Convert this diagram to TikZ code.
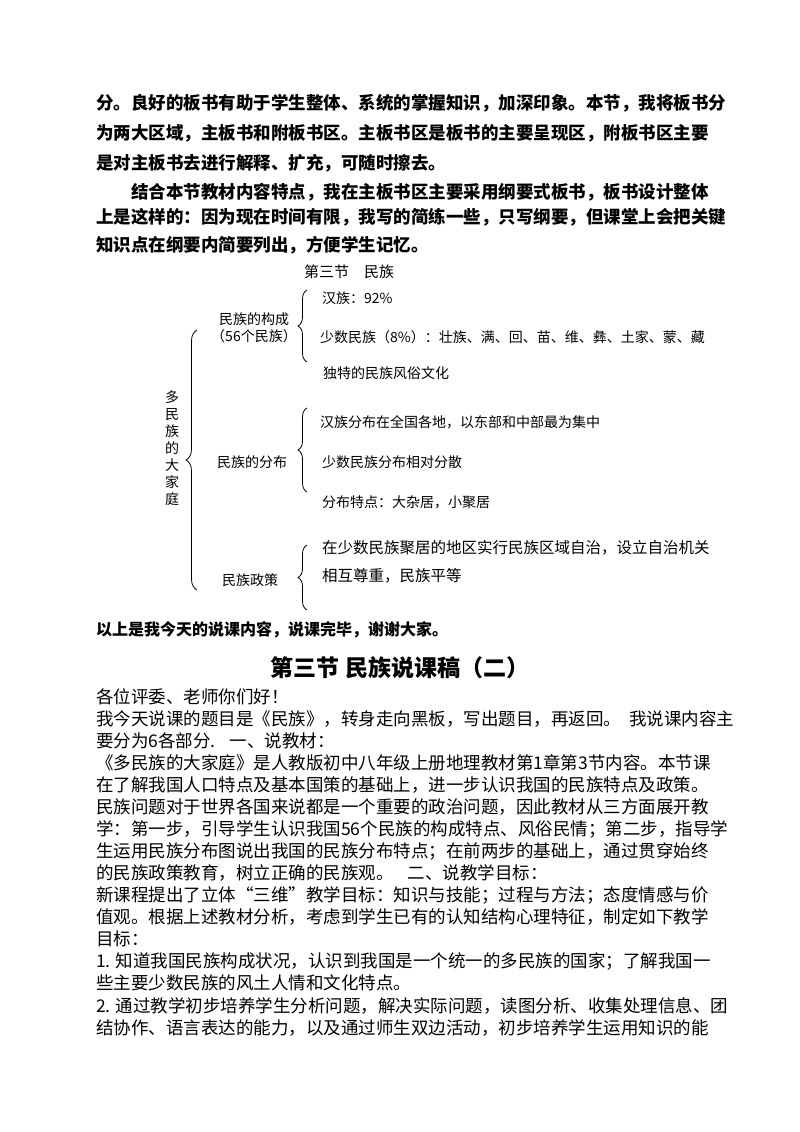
\documentclass[tikz,border=0pt]{standalone}
\usepackage{fontspec}
\setmainfont{Noto Sans CJK SC}
\usetikzlibrary{decorations.pathreplacing}
\XeTeXlinebreaklocale "zh"
\XeTeXlinebreakskip=0pt plus 3pt
\newcommand{\fl}[1]{\makebox[604pt][s]{#1}}
\begin{document}
\begin{tikzpicture}[x=1pt,y=-1pt,
  bt/.style={anchor=west,inner sep=0pt,font=\fontsize{17.5}{20}\selectfont\bfseries},
  bd/.style={anchor=west,inner sep=0pt,font=\fontsize{17.5}{20}\selectfont},
  it/.style={anchor=west,inner sep=0pt,font=\fontsize{14}{16}\selectfont},
  br/.style={decorate,decoration={brace,amplitude=9pt},line width=0.8pt}]
\useasboundingbox[fill=white] (0,0) rectangle (800,1132);
% top paragraph
\node[bt] (p1) at (96,103) {\fl{分。良好的板书有助于学生整体、系统的掌握知识，加深印象。本节，我将板书分}};
\node[bt] (p2) at (96,133) {\fl{为两大区域，主板书和附板书区。主板书区是板书的主要呈现区，附板书区主要}};
\node[bt] (p3) at (96,163) {是对主板书去进行解释、扩充，可随时擦去。};
\node[bt] (p4) at (96,192) {\makebox[585pt][s]{\hspace{35pt}结合本节教材内容特点，我在主板书区主要采用纲要式板书，板书设计整体}};
\node[bt] (p5) at (96,217) {\fl{上是这样的：因为现在时间有限，我写的简练一些，只写纲要，但课堂上会把关键}};
\node[bt] (p6) at (96,245) {知识点在纲要内简要列出，方便学生记忆。};
% diagram
\node[inner sep=0pt,font=\fontsize{15}{17}\selectfont] (t) at (349,272) {第三节\quad 民族};
\node[align=center,inner sep=0pt,font=\fontsize{14}{17}\selectfont] (v) at (172,448) {多\\民\\族\\的\\大\\家\\庭};
\coordinate (b0a) at (197,590); \coordinate (b0b) at (197,330);
\draw[br,decoration={amplitude=11pt}] (b0a) -- (b0b);
\node[align=center,inner sep=0pt,font=\fontsize{14}{17}\selectfont] (g1) at (254,328) {民族的构成\\（56个民族）};
\node[it] (g2) at (217,462) {民族的分布};
\node[it] (g3) at (222,580) {民族政策};
\coordinate (b1a) at (307,362); \coordinate (b1b) at (307,290);
\draw[br] (b1a) -- (b1b);
\coordinate (b2a) at (307,492); \coordinate (b2b) at (307,408);
\draw[br] (b2a) -- (b2b);
\coordinate (b3a) at (307,610); \coordinate (b3b) at (307,545);
\draw[br] (b3a) -- (b3b);
\node[it] (i1) at (322,298) {汉族：92\%};
\node[it] (i2) at (320,337) {少数民族（8\%）：壮族、满、回、苗、维、彝、土家、蒙、藏};
\node[it] (i3) at (323,373) {独特的民族风俗文化};
\node[it] (i4) at (320,422) {汉族分布在全国各地，以东部和中部最为集中};
\node[it] (i5) at (322,462) {少数民族分布相对分散};
\node[it] (i6) at (322,502) {分布特点：大杂居，小聚居};
\node[it,font=\fontsize{15.5}{17}\selectfont] (i7) at (322,548) {在少数民族聚居的地区实行民族区域自治，设立自治机关};
\node[it,font=\fontsize{15.5}{17}\selectfont] (i8) at (322,576) {相互尊重，民族平等};
\node[bt,font=\fontsize{16}{18}\selectfont\bfseries] (end) at (96,630) {以上是我今天的说课内容，说课完毕，谢谢大家。};
% second part
\node[inner sep=0pt,font=\fontsize{23}{26}\selectfont\bfseries] (h) at (400,668) {第三节 民族说课稿（二）};
\node[bd] (q1) at (96,697) {各位评委、老师你们好！};
\node[bd] (q2) at (96,719) {\fl{我今天说课的题目是《民族》，转身走向黑板，写出题目，再返回。\hspace{8pt}我说课内容主}};
\node[bd] (q3) at (96,741) {要分为6各部分.\hspace{14pt}一、说教材：};
\node[bd] (q4) at (96,763) {\fl{《多民族的大家庭》是人教版初中八年级上册地理教材第1章第3节内容。本节课}};
\node[bd] (q5) at (96,785) {\fl{在了解我国人口特点及基本国策的基础上，进一步认识我国的民族特点及政策。}};
\node[bd] (q6) at (96,807) {\fl{民族问题对于世界各国来说都是一个重要的政治问题，因此教材从三方面展开教}};
\node[bd] (q7) at (96,829) {\fl{学：第一步，引导学生认识我国56个民族的构成特点、风俗民情；第二步，指导学}};
\node[bd] (q8) at (96,851) {\fl{生运用民族分布图说出我国的民族分布特点；在前两步的基础上，通过贯穿始终}};
\node[bd] (q9) at (96,873) {的民族政策教育，树立正确的民族观。\hspace{14pt}二、说教学目标：};
\node[bd] (q10) at (96,895) {\fl{新课程提出了立体“三维”教学目标：知识与技能；过程与方法；态度情感与价}};
\node[bd] (q11) at (96,917) {\fl{值观。根据上述教材分析，考虑到学生已有的认知结构心理特征，制定如下教学}};
\node[bd] (q12) at (96,939) {目标：};
\node[bd] (q13) at (96,961) {\fl{1. 知道我国民族构成状况，认识到我国是一个统一的多民族的国家；了解我国一}};
\node[bd] (q14) at (96,983) {些主要少数民族的风土人情和文化特点。};
\node[bd] (q15) at (96,1006) {\fl{2. 通过教学初步培养学生分析问题，解决实际问题，读图分析、收集处理信息、团}};
\node[bd] (q16) at (96,1028) {\fl{结协作、语言表达的能力，以及通过师生双边活动，初步培养学生运用知识的能}};
\end{tikzpicture}
\end{document}
